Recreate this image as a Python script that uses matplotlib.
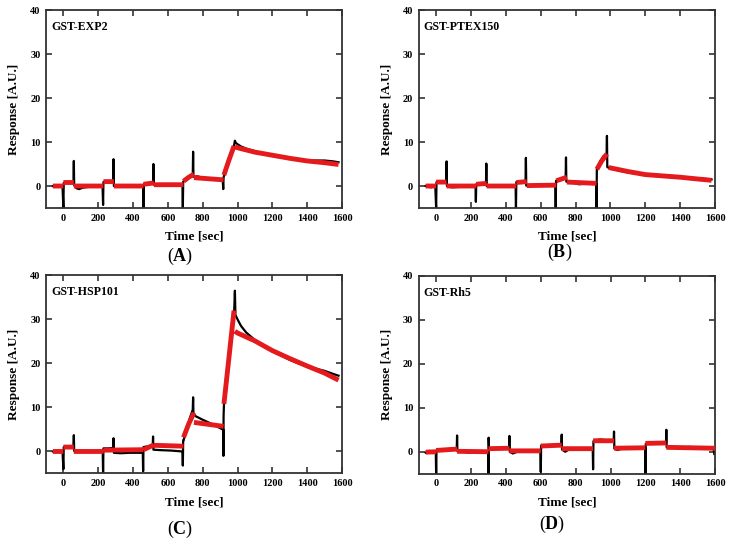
import numpy as np
import matplotlib
matplotlib.use('Agg')
import matplotlib.pyplot as plt

nan = np.nan

# GST-EXP2
a_time = [-60, -30, -5, 0, 2, 20, 40, 58, 60, 62, 75, 90, 110, 140, 170, 200, 225, 228, 230, 250, 270, 286,
          288, 290, 320, 360, 400, 440, 458, 460, 462, 490, 515, 517, 519, 540, 580, 620, 660, 684, 686, 688,
          710, 730, 743, 745, 747, 770, 800, 840, 880, 915, 918, 920, 940, 960, 980, 985, 990, 1000, 1020,
          1050, 1100, 1150, 1200, 1250, 1300, 1350, 1400, 1450, 1500, 1550, 1580]
a_resp = [0.0, 0.1, -0.1, -5.0, 0.7, 0.9, 0.8, 0.9, 5.7, 0.2, -0.5, -0.7, -0.4, -0.2, -0.1, 0.1, 0.0, -4.3, 0.9,
          1.1, 1.0, 1.1, 6.1, 0.0, -0.2, -0.1, 0.0, -0.1, 0.0, -5.0, 0.4, 0.5, 0.6, 5.0, 0.3, 0.2, 0.1, 0.3,
          0.2, 0.2, -5.0, 1.0, 1.6, 2.2, 2.6, 7.8, 2.1, 2.2, 1.9, 1.7, 1.5, 1.4, -0.7, 2.0, 4.5, 7.0, 9.2,
          10.3, 9.8, 9.5, 9.0, 8.5, 7.9, 7.4, 7.0, 6.6, 6.2, 6.0, 5.8, 5.8, 5.8, 5.6, 5.4]
a_fit_time = [-60, 0, nan, 0, 60, nan, 60, 230, nan, 230, 290, nan, 290, 460, nan, 460, 520, nan, 520, 690, nan,
              690, 720, 750, nan, 750, 920, nan, 922, 950, 980, nan, 985, 1000, 1100, 1200, 1300, 1400, 1500, 1580]
a_fit_resp = [0.0, 0.0, nan, 0.8, 0.8, nan, 0.0, 0.0, nan, 1.0, 1.0, nan, 0.0, 0.0, nan, 0.4, 0.7, nan, 0.3, 0.3,
              nan, 1.1, 2.0, 2.7, nan, 1.9, 1.4, nan, 2.5, 5.8, 9.1, nan, 9.0, 8.7, 7.7, 7.0, 6.3, 5.7, 5.3, 4.9]

# GST-PTEX150
b_time = [-60, -30, -5, 0, 2, 30, 58, 60, 62, 90, 130, 180, 226, 228, 230, 260, 286, 288, 290, 330, 380, 430,
          456, 458, 460, 490, 513, 515, 517, 540, 580, 630, 684, 686, 688, 720, 743, 745, 747, 780, 820, 870,
          918, 920, 922, 940, 960, 978, 980, 982, 1000, 1050, 1100, 1150, 1200, 1300, 1350, 1400, 1450, 1500,
          1550, 1580]
b_resp = [0.0, -0.3, 0.1, -5.0, 0.9, 1.0, 0.9, 5.6, 0.0, -0.3, -0.2, -0.1, 0.0, -3.6, 0.4, 0.6, 0.7, 5.1, 0.0,
          0.1, 0.0, 0.0, -0.1, -5.0, 0.9, 1.0, 1.2, 6.4, 0.1, 0.0, 0.1, 0.2, 0.3, -5.0, 1.2, 1.6, 2.0, 6.5, 1.0,
          0.8, 0.4, 0.6, 0.5, -5.0, 3.8, 5.5, 6.8, 7.2, 11.4, 4.3, 4.0, 3.5, 3.1, 2.8, 2.6, 2.2, 2.1, 2.0, 1.8,
          1.7, 1.6, 1.5]
b_fit_time = [-60, 0, nan, 0, 60, nan, 60, 230, nan, 230, 290, nan, 290, 460, nan, 460, 520, nan, 520, 690, nan,
              690, 750, nan, 750, 920, nan, 922, 950, 980, nan, 990, 1100, 1200, 1300, 1400, 1500, 1580]
b_fit_resp = [0.0, 0.0, nan, 0.9, 0.9, nan, 0.0, 0.0, nan, 0.4, 0.6, nan, 0.0, 0.0, nan, 0.8, 1.0, nan, 0.1, 0.2,
              nan, 1.2, 2.0, nan, 0.9, 0.6, nan, 3.8, 5.7, 7.3, nan, 4.2, 3.3, 2.6, 2.3, 2.0, 1.6, 1.3]

# GST-HSP101
c_time = [-60, -30, -5, 0, 2, 30, 58, 60, 62, 100, 150, 200, 226, 228, 230, 260, 286, 288, 290, 330, 380, 430,
          456, 458, 460, 490, 513, 515, 517, 560, 620, 684, 686, 688, 690, 710, 730, 743, 745, 747, 760, 800,
          850, 900, 915, 918, 919, 920, 922, 940, 960, 980, 985, 988, 1000, 1020, 1050, 1100, 1150, 1200,
          1250, 1300, 1350, 1400, 1450, 1500, 1550, 1580]
c_resp = [0.0, 0.0, 0.0, -4.0, 1.0, 1.0, 1.0, 3.7, 0.1, 0.1, 0.0, 0.1, 0.0, -5.0, 0.7, 0.7, 0.8, 3.0, -0.3,
          -0.4, -0.3, -0.3, -0.3, -4.5, 1.0, 1.2, 1.4, 3.4, 0.4, 0.3, 0.2, 0.0, -3.2, 2.5, 2.5, 5.5, 8.0, 9.5,
          12.3, 8.5, 8.0, 7.2, 6.3, 5.3, 5.0, 5.0, -1.0, 8.0, 10.5, 18.0, 25.0, 31.0, 36.5, 31.0, 30.0, 28.5,
          27.0, 25.3, 24.0, 22.8, 21.8, 20.8, 20.0, 19.3, 18.8, 18.3, 17.6, 17.2]
c_fit_time = [-60, 0, nan, 0, 60, nan, 60, 230, nan, 230, 460, nan, 460, 520, nan, 520, 690, nan, 690, 720, 750,
              nan, 750, 920, nan, 922, 950, 980, nan, 985, 1000, 1100, 1200, 1300, 1400, 1500, 1580]
c_fit_resp = [0.0, 0.0, nan, 1.0, 1.0, nan, 0.0, 0.0, nan, 0.3, 0.4, nan, 0.4, 1.5, nan, 1.4, 1.2, nan, 3.2, 6.3,
              8.8, nan, 6.6, 5.7, nan, 10.8, 21.0, 32.0, nan, 27.3, 26.9, 25.1, 22.9, 21.1, 19.4, 17.8, 16.2]

# GST-Rh5
d_time = [-60, -40, -20, -2, 0, 2, 30, 60, 90, 118, 120, 122, 150, 190, 230, 270, 298, 300, 301, 303, 340,
          380, 418, 420, 422, 440, 470, 520, 560, 598, 600, 602, 640, 680, 718, 720, 722, 740, 770, 820, 860,
          898, 900, 902, 940, 980, 1018, 1020, 1022, 1040, 1080, 1120, 1160, 1198, 1200, 1202, 1240, 1280,
          1318, 1320, 1322, 1360, 1400, 1450, 1500, 1550, 1590, 1595]
d_resp = [-0.2, 0.2, -0.3, 0.0, -5.2, 0.2, 0.4, 0.6, 0.7, 0.5, 3.7, 0.1, 0.0, -0.2, 0.1, -0.1, 0.0, -5.0, 3.2,
          0.7, 0.8, 0.9, 0.8, 3.6, 0.0, -0.4, 0.1, 0.2, 0.3, 0.2, -4.6, 1.4, 1.5, 1.6, 1.5, 3.9, 0.5, 0.0, 0.7,
          0.6, 0.8, 0.7, -4.0, 2.4, 2.8, 2.6, 2.5, 4.6, 0.7, 0.4, 0.9, 0.8, 1.0, 0.9, -5.0, 1.8, 2.0, 2.2, 2.0,
          5.0, 1.0, 1.0, 0.9, 1.1, 0.9, 1.0, 0.9, -0.5]
d_fit_time = [-60, 0, nan, 0, 120, nan, 120, 300, nan, 300, 420, nan, 420, 600, nan, 600, 720, nan, 720, 900, nan,
              900, 1020, nan, 1020, 1200, nan, 1200, 1320, nan, 1320, 1600]
d_fit_resp = [-0.1, 0.0, nan, 0.3, 0.6, nan, 0.1, 0.0, nan, 0.7, 0.8, nan, 0.2, 0.2, nan, 1.3, 1.5, nan, 0.7, 0.7,
              nan, 2.5, 2.5, nan, 0.8, 0.9, nan, 1.9, 2.0, nan, 1.0, 0.8]

names = ['GST-EXP2', 'GST-PTEX150', 'GST-HSP101', 'GST-Rh5']
letters = ['A', 'B', 'C', 'D']

plt.rcParams['font.family'] = ['Liberation Serif', 'DejaVu Serif']
plt.rcParams['mathtext.fontset'] = 'custom'
plt.rcParams['mathtext.rm'] = 'Liberation Serif'
plt.rcParams['mathtext.bf'] = 'Liberation Serif:bold'


def draw_panel(ax, t, y, fit_t, fit_y, name):
    ax.plot(t, y, color='black', lw=1.6, zorder=2)
    ax.plot(fit_t, fit_y, color='#e41a1c', lw=3.5, solid_capstyle='butt', zorder=3)
    ax.set_xlim(-100, 1600)
    ax.set_ylim(-5, 40)
    ax.set_xticks(range(0, 1601, 200))
    ax.set_yticks(range(0, 41, 10))
    ax.tick_params(direction='in', top=True, right=True, length=4, width=1.2, labelsize=7.5, pad=4,
                   color='#333333')
    for lab in ax.get_xticklabels() + ax.get_yticklabels():
        lab.set_fontweight('bold')
    for s in ax.spines.values():
        s.set_linewidth(1.3)
        s.set_color('#333333')
    ax.set_xlabel('Time [sec]', fontsize=9.5, fontweight='bold', labelpad=6)
    ax.set_ylabel('Response [A.U.]', fontsize=9.5, fontweight='bold', labelpad=7)
    ax.text(0.017, 0.915, name, transform=ax.transAxes, fontsize=8.6, fontweight='bold', va='center', ha='left')


fig = plt.figure(figsize=(7.32, 5.45), dpi=100)
boxes = [[0.0628, 0.6183, 0.4044, 0.3633], [0.572, 0.6183, 0.4048, 0.3633],
         [0.0628, 0.1312, 0.4044, 0.3637], [0.572, 0.1308, 0.405, 0.3628]]
data = [(a_time, a_resp, a_fit_time, a_fit_resp), (b_time, b_resp, b_fit_time, b_fit_resp),
        (c_time, c_resp, c_fit_time, c_fit_resp), (d_time, d_resp, d_fit_time, d_fit_resp)]
letter_pos = [(0.246, 0.530), (0.764, 0.537), (0.246, 0.029), (0.754, 0.037)]

for i in range(4):
    ax = fig.add_axes(boxes[i])
    draw_panel(ax, *data[i], names[i])
    fig.text(letter_pos[i][0], letter_pos[i][1], '(' + r'$\mathbf{' + letters[i] + '}$' + ')',
             fontsize=13, ha='center', va='center')

plt.savefig('out.png', dpi=100)
